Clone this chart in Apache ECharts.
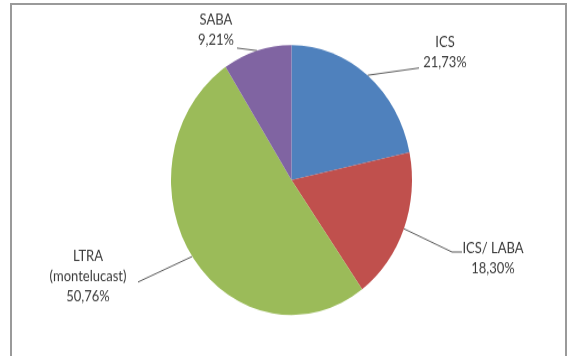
<!DOCTYPE html>
<html>
<head>
<meta charset="utf-8">
<script src="https://cdn.jsdelivr.net/npm/echarts@6/dist/echarts.min.js"></script>
<style>
  html, body { margin: 0; padding: 0; background: #ffffff; overflow: hidden; }
  #frame { position: absolute; left: 10px; top: 3px; width: 557px; height: 400px; border: 2px solid #9a9a9a; box-sizing: border-box; }
  #chart { position: absolute; left: 0; top: 0; width: 571px; height: 318px; transform: scaleY(1.12); transform-origin: 0 0; }
</style>
</head>
<body>
<div id="frame"></div>
<div id="chart"></div>
<script>
// Data
var categories = ['ICS', 'ICS/ LABA', 'LTRA (montelucast)', 'SABA'];
var shares = [21.73, 18.30, 50.76, 9.21];
var colors = ['#4F81BD', '#C0504D', '#9BBB59', '#8064A2'];

// Label placement (layout only, unscaled coordinates)
var labelPlaces = [
  { x: 445, y: 47.3, pts: [[419, 60.7], [419, 60.7]] },
  { x: 493, y: 231.3, pts: [[452, 225], [462, 225]] },
  { x: 88, y: 246.4, pts: [[138, 251.8], [138, 251.8]] },
  { x: 216, y: 26.8, pts: [[237, 42.9], [237, 42.9]] }
];

var chart = echarts.init(document.getElementById('chart'), null, { renderer: 'canvas' });
chart.setOption({
  backgroundColor: 'transparent',
  animation: false,
  series: [{
    type: 'pie',
    center: [291.5, 160.7],
    radius: 120.5,
    startAngle: 90,
    clockwise: true,
    data: categories.map(function (c, i) {
      return { name: c, value: shares[i], itemStyle: { color: colors[i] } };
    }),
    label: {
      show: true,
      position: 'outside',
      formatter: function (p) {
        return p.name.replace(' (', '\n(') + '\n' + p.value.toFixed(2).replace('.', ',') + '%';
      },
      color: '#3a3a3a',
      fontFamily: 'Lato',
      fontSize: 13,
      lineHeight: 18,
      align: 'center'
    },
    labelLine: {
      show: true,
      length: 10,
      length2: 10,
      smooth: false,
      lineStyle: { color: '#595959', width: 1 }
    },
    labelLayout: function (params) {
      var L = labelPlaces[params.dataIndex];
      var start = params.labelLinePoints ? params.labelLinePoints[0] : L.pts[0];
      return {
        x: L.x,
        y: L.y,
        align: 'center',
        verticalAlign: 'middle',
        labelLinePoints: [start, L.pts[0], L.pts[1]]
      };
    },
    emphasis: { disabled: true }
  }]
});
</script>
</body>
</html>
